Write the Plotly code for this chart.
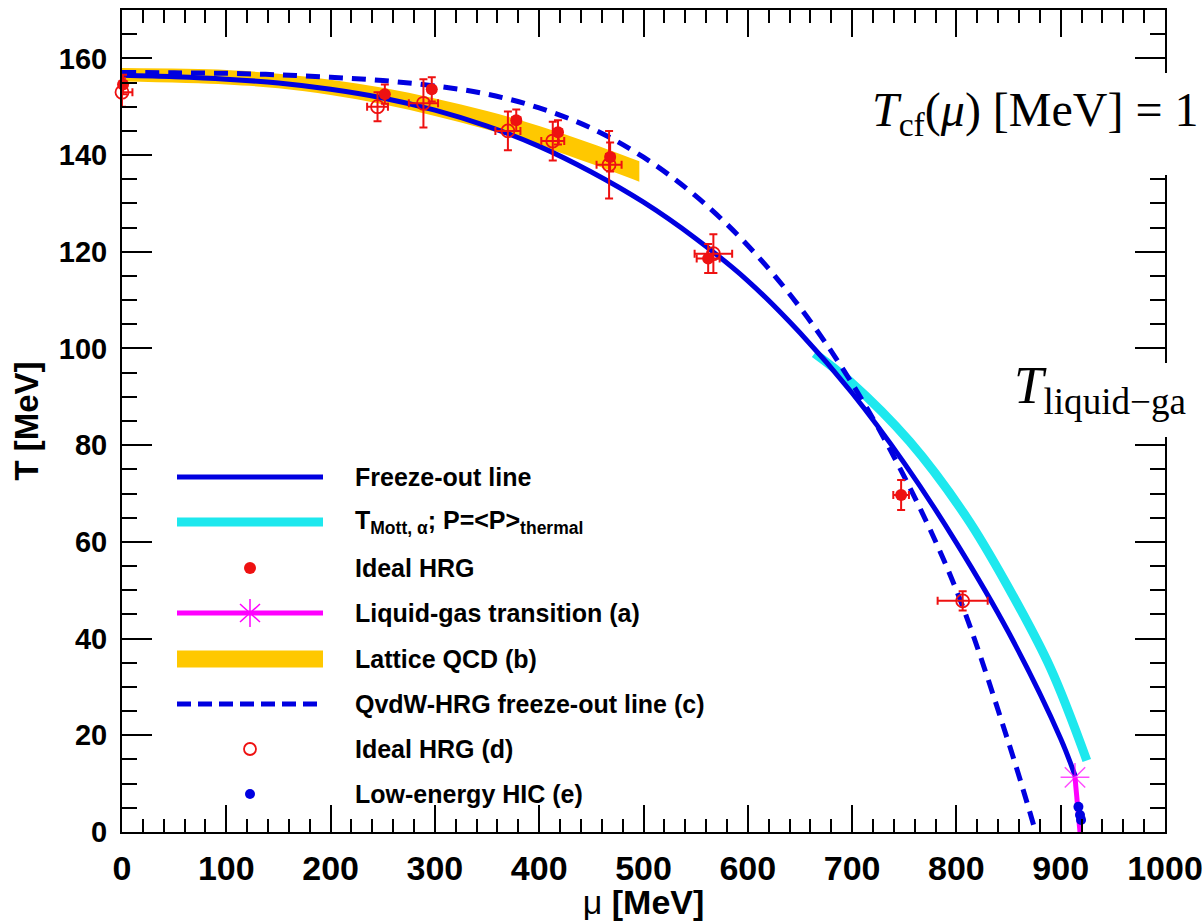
import plotly.graph_objects as go

# ---------------- data ----------------
# Freeze-out line (solid blue)
fo_mu = [0, 50, 100, 150, 200, 250, 300, 350, 400, 450, 500, 550, 600, 650, 700, 750, 800, 850, 900, 914]
fo_T = [156.5, 156.2, 155.7, 154.9, 153.6, 151.8, 149.3, 146.0, 141.8, 136.5, 130.25, 122.75, 114.0,
        103.25, 90.8, 76.3, 59.8, 41.3, 19.3, 11.5]

# QvdW-HRG freeze-out line (dashed blue)
qv_mu = [0, 50, 100, 150, 200, 250, 300, 350, 400, 450, 500, 550, 600, 650, 700, 750, 800, 850, 876]
qv_T = [157.1, 157.0, 156.9, 156.6, 156.1, 155.4, 154.3, 152.6, 149.75, 145.55, 139.55, 131.55, 121.3,
        108.5, 92.75, 73.5, 50.0, 18.5, 0.0]

# T_Mott,alpha (cyan)
mott_mu = [664, 698, 755, 810, 848, 890, 925]
mott_T = [99.0, 93.2, 80.8, 65.0, 51.3, 34.0, 14.8]

# Lattice QCD band (orange)
lat_mu = [0, 100, 150, 200, 250, 300, 350, 400, 450, 496]
lat_upper = [158.0, 157.6, 156.8, 155.6, 153.9, 151.7, 149.1, 146.0, 142.4, 138.7]
lat_lower = [155.2, 154.6, 153.8, 152.4, 150.5, 148.1, 145.3, 142.0, 138.2, 134.5]

# Liquid-gas transition (magenta)
lg_mu = [913.7, 918.5]
lg_T = [11.3, 0.0]

# Ideal HRG (filled red)
hrg_mu = [1, 252, 297, 378, 418, 468, 562, 747]
hrg_T = [154.6, 152.6, 153.6, 147.2, 144.7, 139.6, 118.6, 69.7]
hrg_dmu = [0, 3, 3, 4, 4, 4, 11, 7.5]
hrg_dT = [2.0, 2.0, 2.5, 2.2, 2.5, 3.0, 3.0, 3.1]

# Ideal HRG (d) (open red)
hrgd_mu = [0, 245, 289, 370, 413, 467, 567, 806]
hrgd_T = [153.0, 150.0, 150.7, 145.0, 142.9, 138.0, 119.6, 47.8]
hrgd_dmu = [10, 10, 14, 12, 11, 12, 18, 24]
hrgd_dT = [3, 3, 5, 4, 4, 7, 4, 2]

# Low-energy HIC (blue dots)
hic_mu = [917, 918.5, 919.5]
hic_T = [5.2, 3.5, 2.5]

legend_labels = [
    "Freeze-out line",
    "T<sub>Mott, α</sub>; P=&lt;P&gt;<sub>thermal</sub>",
    "Ideal HRG",
    "Liquid-gas transition (a)",
    "Lattice QCD (b)",
    "QvdW-HRG freeze-out line (c)",
    "Ideal HRG (d)",
    "Low-energy HIC (e)",
]

formula_cf = "<i>T</i><sub>cf</sub>(<i>μ</i>) [MeV] = 1"
formula_lg = "<i>T</i><sub>liquid−ga</sub>"

BLUE = "#0000e0"
CYAN = "#1ee8ee"
RED = "#ee1111"
MAG = "#ff00ff"
ORANGE = "#ffc800"

# ---------------- geometry helpers (pixels -> paper) ----------------
L, R, TOP, B = 122, 1165, 10, 832
W, H = R - L, B - TOP


def fx(px):
    return (px - L) / W


def fy(py):
    return (B - py) / H


fig = go.Figure()

# Lattice band
fig.add_trace(go.Scatter(x=lat_mu, y=lat_lower, mode="lines", line=dict(width=0, color=ORANGE, shape="spline"),
                         showlegend=False, hoverinfo="skip"))
fig.add_trace(go.Scatter(x=lat_mu, y=lat_upper, mode="lines", line=dict(width=0, color=ORANGE, shape="spline"),
                         fill="tonexty", fillcolor=ORANGE, showlegend=False))

# Cyan Mott line
fig.add_trace(go.Scatter(x=mott_mu, y=mott_T, mode="lines", line=dict(color=CYAN, width=9, shape="spline"),
                         showlegend=False))
# Freeze-out line
fig.add_trace(go.Scatter(x=fo_mu, y=fo_T, mode="lines", line=dict(color=BLUE, width=5, shape="spline", smoothing=1),
                         showlegend=False))
# QvdW dashed line
fig.add_trace(go.Scatter(x=qv_mu, y=qv_T, mode="lines",
                         line=dict(color=BLUE, width=5, dash="14px,9px", shape="spline", smoothing=1),
                         showlegend=False))
# Liquid-gas
fig.add_trace(go.Scatter(x=lg_mu, y=lg_T, mode="lines+markers", line=dict(color=MAG, width=5),
                         marker=dict(symbol="asterisk-open", size=[24, 0], color=MAG, line=dict(color=MAG, width=1.5)),
                         showlegend=False, cliponaxis=False))
# Low-energy HIC
fig.add_trace(go.Scatter(x=hic_mu, y=hic_T, mode="markers", marker=dict(symbol="circle", size=10, color=BLUE),
                         showlegend=False, cliponaxis=False))
# Ideal HRG (d) open
fig.add_trace(go.Scatter(x=hrgd_mu, y=hrgd_T, mode="markers",
                         marker=dict(symbol="circle-open", size=13, color=RED, line=dict(color=RED, width=1.8)),
                         error_x=dict(type="data", array=hrgd_dmu, color=RED, thickness=2, width=4),
                         error_y=dict(type="data", array=hrgd_dT, color=RED, thickness=2, width=4),
                         showlegend=False, cliponaxis=False))
# Ideal HRG filled
fig.add_trace(go.Scatter(x=hrg_mu, y=hrg_T, mode="markers",
                         marker=dict(symbol="circle", size=12, color=RED),
                         error_x=dict(type="data", array=hrg_dmu, color=RED, thickness=2, width=4),
                         error_y=dict(type="data", array=hrg_dT, color=RED, thickness=2, width=4),
                         showlegend=False, cliponaxis=False))

# ---------------- custom legend (ROOT style) ----------------
row_y = [477, 522, 568, 613, 659, 704, 749, 794]
lx0, lx1, lxc, ltext = 177, 323, 250, 353
shapes = []
annotations = []


def hline(y, color, width, dash=None):
    d = dict(type="line", xref="paper", yref="paper", x0=fx(lx0), x1=fx(lx1), y0=fy(y), y1=fy(y),
             line=dict(color=color, width=width))
    if dash:
        d["line"]["dash"] = dash
    return d


def circ(cx, cy, r, fill, line_color, lw):
    return dict(type="circle", xref="paper", yref="paper", x0=fx(cx - r), x1=fx(cx + r), y0=fy(cy + r), y1=fy(cy - r),
                fillcolor=fill, line=dict(color=line_color, width=lw))


shapes.append(hline(row_y[0], BLUE, 5))
shapes.append(hline(row_y[1], CYAN, 9))
shapes.append(circ(lxc, row_y[2], 6, RED, RED, 0))
shapes.append(hline(row_y[3], MAG, 5))
for (ax0, ay0, ax1, ay1) in [(0, -14, 0, 14), (-10, -9, 10, 9), (10, -9, -10, 9), (-11, 0, 11, 0)]:
    shapes.append(dict(type="line", xref="paper", yref="paper", x0=fx(lxc + ax0), x1=fx(lxc + ax1),
                       y0=fy(row_y[3] + ay0), y1=fy(row_y[3] + ay1), line=dict(color=MAG, width=1.5)))
shapes.append(dict(type="rect", xref="paper", yref="paper", x0=fx(lx0), x1=fx(lx1), y0=fy(row_y[4] + 8.5),
                   y1=fy(row_y[4] - 8.5), fillcolor=ORANGE, line=dict(width=0)))
shapes.append(hline(row_y[5], BLUE, 5, "14px,7px"))
shapes.append(circ(lxc, row_y[6], 6, "rgba(0,0,0,0)", RED, 1.8))
shapes.append(circ(lxc, row_y[7], 5, BLUE, BLUE, 0))

for lab, yy in zip(legend_labels, row_y):
    annotations.append(dict(text=lab, xref="paper", yref="paper", x=fx(ltext), y=fy(yy), xanchor="left",
                            yanchor="middle", showarrow=False,
                            font=dict(family="Liberation Sans, Arial", size=25, color="black", weight="bold")))

# ---------------- overlay formula texts on white boxes ----------------
for (bx0, by0, by1) in [(866, 73, 175), (1002, 363, 437)]:
    shapes.append(dict(type="rect", xref="paper", yref="paper", layer="above",
                       x0=fx(bx0), x1=fx(1210), y0=fy(by1), y1=fy(by0),
                       fillcolor="white", line=dict(width=0)))

annotations.append(dict(text=formula_cf, xref="paper", yref="paper",
                        x=fx(870), y=fy(113), xanchor="left", yanchor="middle", showarrow=False,
                        font=dict(family="Liberation Serif, DejaVu Serif", size=48, color="black")))
annotations.append(dict(text=formula_lg, xref="paper", yref="paper",
                        x=fx(1012), y=fy(389), xanchor="left", yanchor="middle", showarrow=False,
                        font=dict(family="Liberation Serif, DejaVu Serif", size=53, color="black")))

axis_common = dict(showline=True, linecolor="black", linewidth=2, mirror="allticks", ticks="inside",
                   tickwidth=2, tickcolor="black", showgrid=False, zeroline=False)

fig.update_layout(
    width=1204, height=921, autosize=False,
    margin=dict(l=L, r=1204 - R, t=TOP, b=921 - B, autoexpand=False),
    paper_bgcolor="white", plot_bgcolor="white",
    shapes=shapes, annotations=annotations,
    xaxis=dict(range=[0, 1000], tick0=0, dtick=100, ticklen=27,
               minor=dict(dtick=20, ticklen=13, tickwidth=1.5, ticks="inside", tickcolor="black", showgrid=False),
               tickfont=dict(family="Liberation Sans Narrow, Liberation Sans, Arial", size=34, color="black", weight="bold"),
               ticklabelstandoff=5,
               title=dict(text="μ <b>[MeV]</b>", standoff=0,
                          font=dict(family="Liberation Sans, Arial", size=34, color="black")),
               **axis_common),
    yaxis=dict(range=[0, 170], tick0=0, dtick=20, ticklen=30,
               minor=dict(dtick=5, ticklen=15, tickwidth=1.5, ticks="inside", tickcolor="black", showgrid=False),
               tickfont=dict(family="Liberation Sans, Arial", size=29, color="black", weight="bold"),
               ticklabelstandoff=7,
               title=dict(text="T [MeV]", standoff=10,
                          font=dict(family="Liberation Sans, Arial", size=33, color="black", weight="bold")),
               **axis_common),
)

fig.write_html("out.html")
